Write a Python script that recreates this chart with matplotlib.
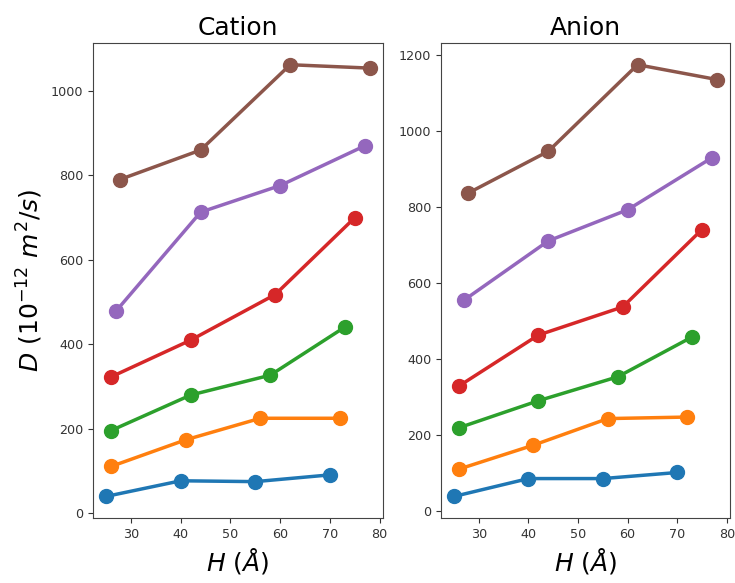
import matplotlib
matplotlib.use("Agg")
import matplotlib.pyplot as plt

# H values (Å) for each series
h_blue = [25, 40, 55, 70]
h_orange = [26, 41, 56, 72]
h_green = [26, 42, 58, 73]
h_red = [26, 42, 59, 75]
h_purple = [27, 44, 60, 77]
h_brown = [27.7, 44, 62, 78]

# Cation D values (1e-12 m^2/s)
cat_blue = [40, 77, 75, 91]
cat_orange = [111, 174, 225, 225]
cat_green = [196, 280, 327, 441]
cat_red = [323, 410, 518, 700]
cat_purple = [479, 713, 776, 870]
cat_brown = [790, 860, 1062, 1054]

# Anion D values (1e-12 m^2/s)
an_blue = [38, 85, 85, 101]
an_orange = [110, 173, 243, 247]
an_green = [219, 290, 353, 458]
an_red = [329, 463, 537, 741]
an_purple = [555, 711, 793, 930]
an_brown = [836, 947, 1175, 1136]

colors = ['#1f77b4', '#ff7f0e', '#2ca02c', '#d62728', '#9467bd', '#8c564b']
hs = [h_blue, h_orange, h_green, h_red, h_purple, h_brown]
cat = [cat_blue, cat_orange, cat_green, cat_red, cat_purple, cat_brown]
an = [an_blue, an_orange, an_green, an_red, an_purple, an_brown]

fig = plt.figure(figsize=(7.35, 5.83), dpi=100)
ax1 = fig.add_axes([0.1265, 0.1115, 0.3945, 0.8145])
ax2 = fig.add_axes([0.600, 0.1115, 0.3932, 0.8145])

for ax, data, title in [(ax1, cat, 'Cation'), (ax2, an, 'Anion')]:
    for h, d, c in zip(hs, data, colors):
        ax.plot(h, d, '-o', color=c, lw=2.5, ms=10)
    ax.set_title(title, fontsize=18)
    ax.set_xlabel(r'$H\ (Å)$', fontsize=18)
    ax.set_xticks([30, 40, 50, 60, 70, 80])
    ax.tick_params(labelsize=9.2, colors='#333333')
    for s in ax.spines.values():
        s.set_color('#444444')

ax1.set_ylabel(r'$D\ (10^{-12}\ m^2/s)$', fontsize=18)
ax1.set_yticks([0, 200, 400, 600, 800, 1000])
ax2.set_yticks([0, 200, 400, 600, 800, 1000, 1200])

fig.savefig('out.png', dpi=100)
